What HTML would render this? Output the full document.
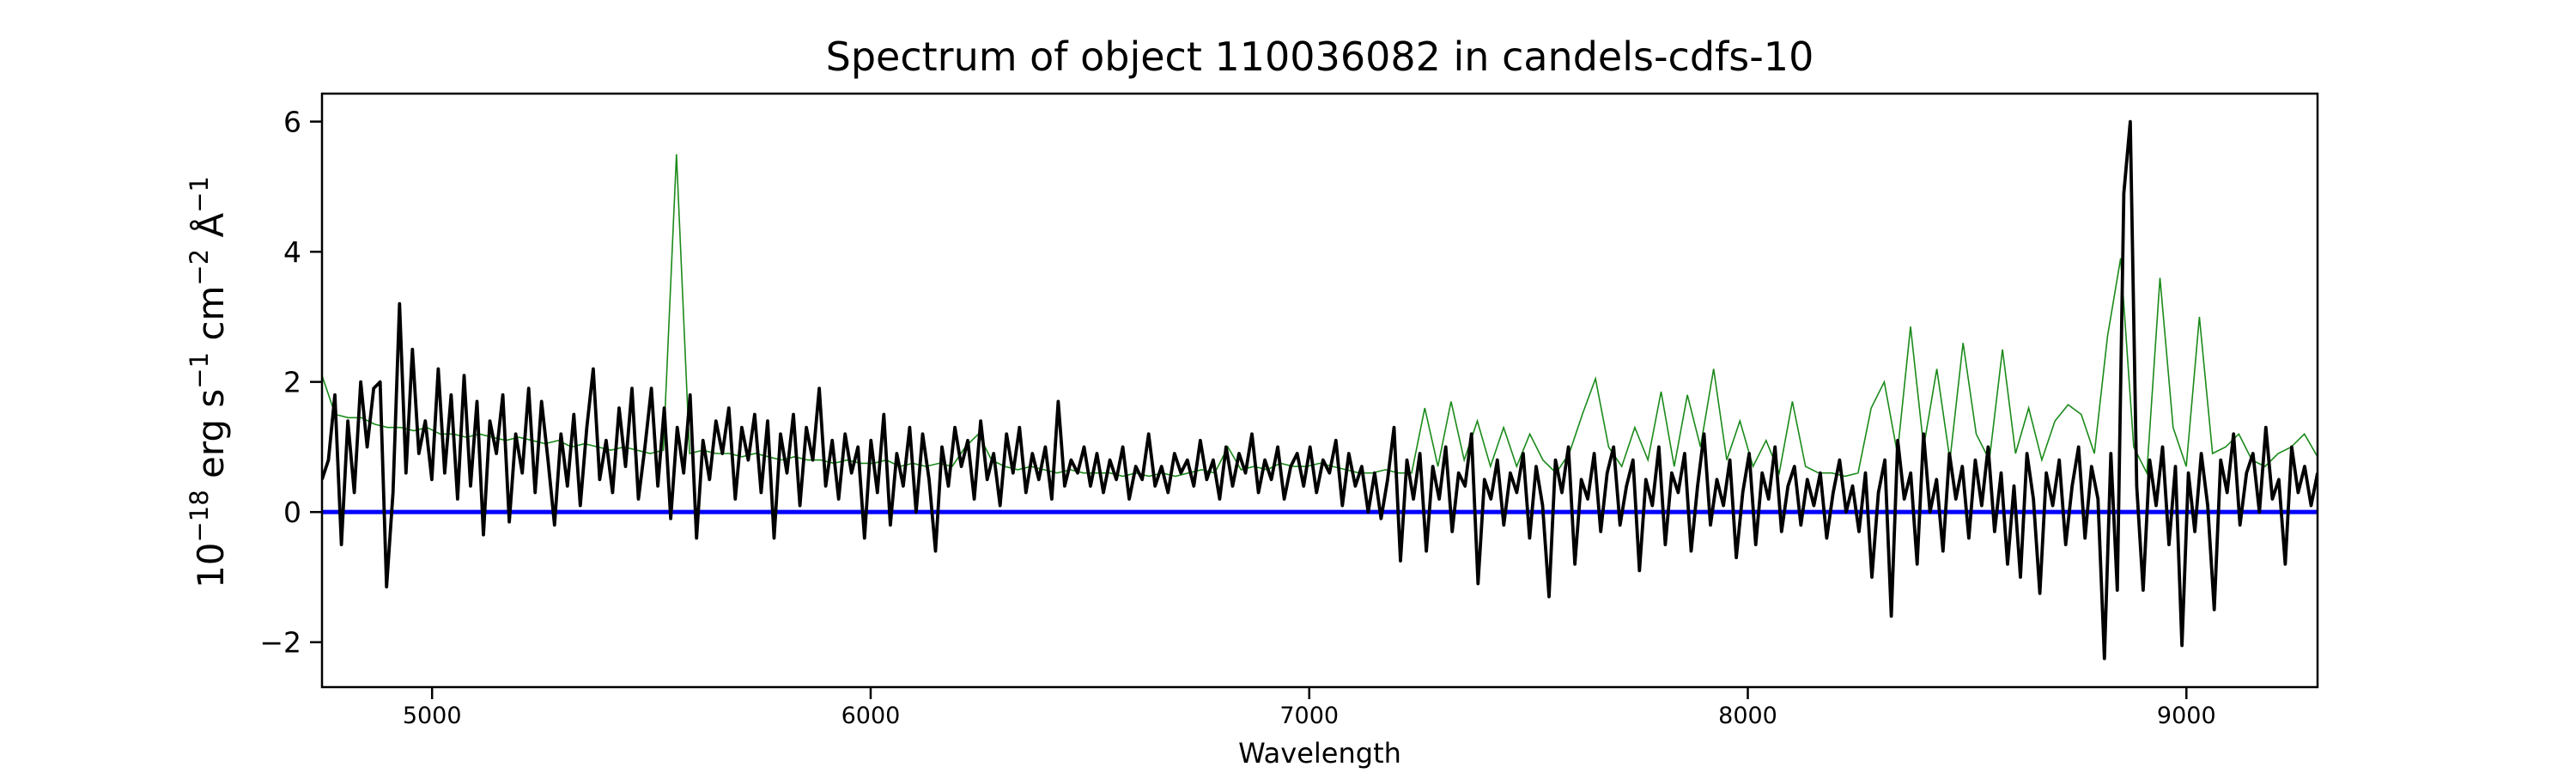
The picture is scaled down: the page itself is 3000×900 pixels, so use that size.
<!DOCTYPE html>
<html><head><meta charset="utf-8"><style>
html,body{margin:0;padding:0;background:#fff;}
svg{display:block;font-family:"DejaVu Sans","Liberation Sans",sans-serif;}
</style></head><body>
<svg id="chart" width="3000" height="900" viewBox="0 0 3000 900" xmlns="http://www.w3.org/2000/svg">
<text x="1537" y="82" font-size="46" text-anchor="middle">Spectrum of object 110036082 in candels-cdfs-10</text>
<g id="plot"></g>
<text x="1537" y="888" font-size="32" text-anchor="middle">Wavelength</text>
<text transform="translate(260,445) rotate(-90)" font-size="42" text-anchor="middle">10<tspan dy="-18" font-size="29">−18</tspan><tspan dy="18"> erg s</tspan><tspan dy="-18" font-size="29">−1</tspan><tspan dy="18"> cm</tspan><tspan dy="-18" font-size="29">−2</tspan><tspan dy="18"> Å</tspan><tspan dy="-18" font-size="29">−1</tspan></text>
</svg>
<script>
const xRange = [4749, 9299];
const yRange = [-2.69, 6.43];
const xTicks = [5000, 6000, 7000, 8000, 9000];
const yTicks = [-2, 0, 2, 4, 6];
const yTickLabels = ["−2", "0", "2", "4", "6"];
const flux = [0.5,0.8,1.8,-0.5,1.4,0.3,2.0,1.0,1.9,2.0,-1.15,0.3,3.2,0.6,2.5,0.9,1.4,
0.5,2.2,0.6,1.8,0.2,2.1,0.4,1.7,-0.35,1.4,0.9,1.8,-0.15,1.2,0.6,1.9,0.3,
1.7,0.8,-0.2,1.2,0.4,1.5,0.1,1.3,2.2,0.5,1.1,0.3,1.6,0.7,1.9,0.2,1.0,
1.9,0.4,1.6,-0.1,1.3,0.6,1.8,-0.4,1.1,0.5,1.4,0.9,1.6,0.2,1.3,0.8,1.5,
0.3,1.4,-0.4,1.2,0.6,1.5,0.1,1.3,0.8,1.9,0.4,1.1,0.2,1.2,0.6,1.0,-0.4,
1.1,0.3,1.5,-0.2,0.9,0.4,1.3,0.0,1.2,0.5,-0.6,1.0,0.4,1.3,0.7,1.1,0.2,
1.4,0.5,0.9,0.1,1.2,0.6,1.3,0.3,0.9,0.5,1.0,0.2,1.7,0.4,0.8,0.6,1.0,
0.4,0.9,0.3,0.8,0.5,1.0,0.2,0.7,0.5,1.2,0.4,0.7,0.3,0.9,0.6,0.8,0.4,
1.1,0.5,0.8,0.2,1.0,0.4,0.9,0.6,1.2,0.3,0.8,0.5,1.0,0.2,0.7,0.9,0.4,
1.0,0.3,0.8,0.6,1.1,0.1,0.9,0.4,0.7,0.0,0.6,-0.1,0.5,1.3,-0.75,0.8,0.2,
0.9,-0.6,0.7,0.2,1.0,-0.3,0.6,0.4,1.2,-1.1,0.5,0.2,0.8,-0.2,0.6,0.3,0.9,
-0.4,0.7,0.1,-1.3,0.8,0.3,1.0,-0.8,0.5,0.2,0.9,-0.3,0.6,1.0,-0.2,0.4,0.8,
-0.9,0.5,0.1,1.0,-0.5,0.6,0.3,0.9,-0.6,0.4,1.2,-0.2,0.5,0.1,0.8,-0.7,0.3,
0.9,-0.5,0.6,0.2,1.0,-0.3,0.4,0.7,-0.2,0.5,0.1,0.6,-0.4,0.3,0.8,0.0,0.4,
-0.3,0.6,-1.0,0.3,0.8,-1.6,1.1,0.2,0.6,-0.8,1.2,0.0,0.5,-0.6,0.9,0.2,0.7,
-0.4,0.8,0.1,1.0,-0.3,0.6,-0.8,0.4,-1.0,0.9,0.2,-1.25,0.6,0.1,0.8,-0.5,0.4,
1.0,-0.4,0.7,0.2,-2.25,0.9,-1.2,4.9,6.0,0.4,-1.2,0.8,0.1,1.0,-0.5,0.7,-2.05,
0.6,-0.3,0.9,0.1,-1.5,0.8,0.3,1.2,-0.2,0.6,0.9,0.0,1.3,0.2,0.5,-0.8,1.0,
0.3,0.7,0.1,0.6];
const sky = [2.1,1.5,1.45,1.45,1.35,1.3,1.3,1.25,1.3,1.2,1.2,1.15,1.2,1.15,1.1,1.15,
1.1,1.05,1.1,1.0,1.05,1.0,0.95,1.0,0.95,0.9,0.95,5.5,0.9,0.95,0.9,
0.9,0.85,0.9,0.85,0.8,0.85,0.8,0.8,0.75,0.8,0.75,0.75,0.8,0.7,0.75,
0.7,0.75,0.7,1.0,1.2,0.8,0.7,0.65,0.7,0.65,0.6,0.65,0.6,0.6,0.6,
0.55,0.6,0.55,0.6,0.55,0.6,0.65,0.6,1.0,0.65,0.7,0.65,0.75,0.7,0.7,
0.75,0.7,0.65,0.6,0.6,0.65,0.6,0.6,1.6,0.7,1.7,0.8,1.4,0.7,1.3,
0.7,1.2,0.8,0.6,0.9,1.5,2.05,1.0,0.7,1.3,0.8,1.85,0.7,1.8,1.0,
2.2,0.8,1.4,0.7,1.1,0.6,1.7,0.7,0.6,0.6,0.55,0.6,1.6,2.0,0.9,
2.85,1.0,2.2,0.8,2.6,1.2,0.8,2.5,0.9,1.6,0.8,1.4,1.65,1.5,0.9,
2.7,3.9,1.0,0.6,3.6,1.3,0.7,3.0,0.9,1.0,1.2,0.8,0.7,0.9,1.0,1.2,0.85];

const L = 375, R = 2699, T = 109, B = 800;
const NS = "http://www.w3.org/2000/svg";
const plot = document.getElementById('plot');
function xs(v){ return L + (v - xRange[0]) / (xRange[1] - xRange[0]) * (R - L); }
function ys(v){ return B - (v - yRange[0]) / (yRange[1] - yRange[0]) * (B - T); }
function wlAt(i, n){ return xRange[0] + i * (xRange[1] - xRange[0]) / (n - 1); }
function mk(tag, attrs){ const e = document.createElementNS(NS, tag); for (const k in attrs) e.setAttribute(k, attrs[k]); return e; }
function pathFor(arr){ return arr.map((v,i)=>(i?'L':'M')+xs(wlAt(i,arr.length)).toFixed(1)+','+ys(v).toFixed(1)).join(''); }

const clip = mk('clipPath', {id:'pc'});
clip.appendChild(mk('rect', {x:L, y:T, width:R-L, height:B-T}));
plot.appendChild(clip);

const g = mk('path', {d:pathFor(sky), fill:'none', stroke:'#1a8a1a', 'stroke-width':1.6, 'clip-path':'url(#pc)'});


plot.appendChild(g);

const z = mk('line', {x1:xs(xRange[0]), x2:xs(xRange[1]), y1:ys(0), y2:ys(0), stroke:'#0000ff', 'stroke-width':5});


plot.appendChild(z);

const f = mk('path', {d:pathFor(flux), fill:'none', stroke:'#000', 'stroke-width':3.8, 'stroke-linejoin':'round', 'clip-path':'url(#pc)'});


plot.appendChild(f);

const frame = mk('rect', {x:L, y:T, width:R-L, height:B-T, fill:'none', stroke:'#000', 'stroke-width':2.5});


plot.appendChild(frame);

xTicks.forEach((v)=>{
  const t = mk('line', {x1:xs(v), x2:xs(v), y1:B, y2:B+14, stroke:'#000', 'stroke-width':2.5});
  
  
  plot.appendChild(t);
  const tx = mk('text', {x:xs(v), y:B+42, 'font-size':27, 'text-anchor':'middle'});
  tx.textContent = String(v);
  
  
  plot.appendChild(tx);
});
yTicks.forEach((v,i)=>{
  const t = mk('line', {x1:L-14, x2:L, y1:ys(v), y2:ys(v), stroke:'#000', 'stroke-width':2.5});
  
  
  plot.appendChild(t);
  const tx = mk('text', {x:L-24, y:ys(v)+12, 'font-size':33, 'text-anchor':'end'});
  tx.textContent = yTickLabels[i];
  
  
  plot.appendChild(tx);
});
</script>
</body></html>
